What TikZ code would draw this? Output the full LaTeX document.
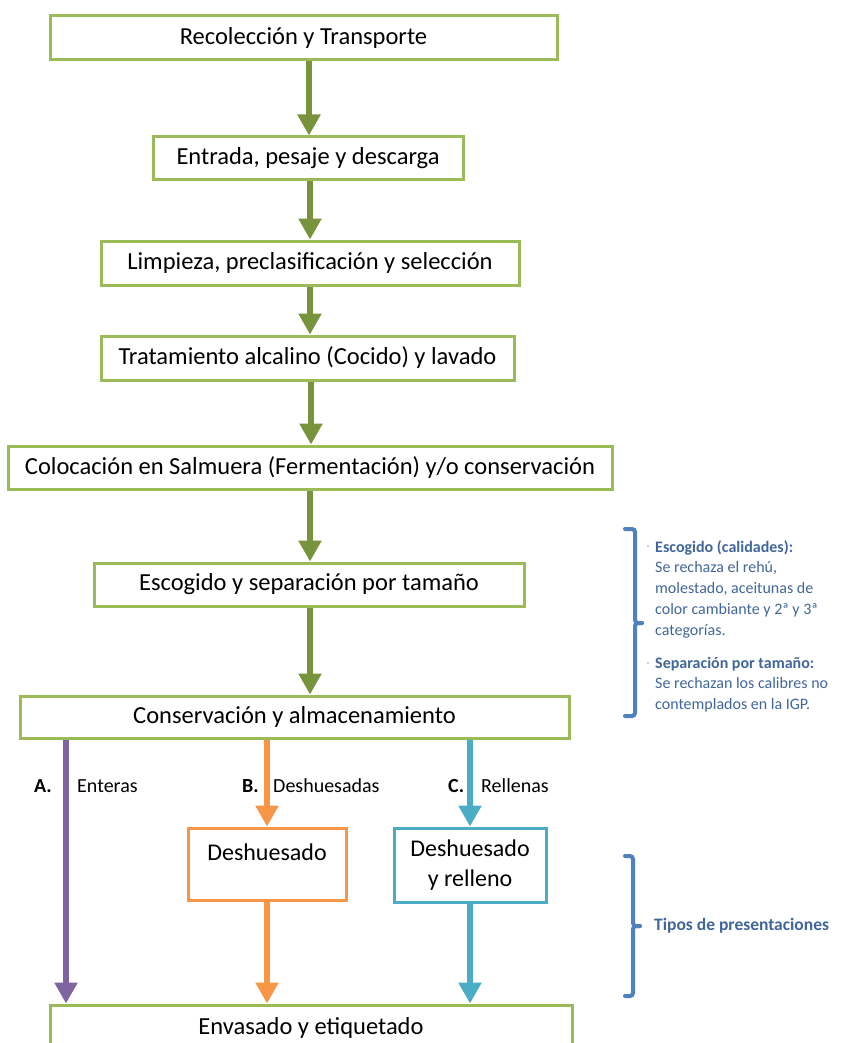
\documentclass[tikz,border=0pt]{standalone}
\usepackage{fontspec}
\setmainfont{Carlito}
\usetikzlibrary{arrows.meta}
\definecolor{boxgreen}{HTML}{9BBB59}
\definecolor{arrgreen}{HTML}{77933C}
\definecolor{purp}{HTML}{8064A2}
\definecolor{orng}{HTML}{F79646}
\definecolor{aqua}{HTML}{4BACC6}
\definecolor{brc}{HTML}{4F81BD}
\definecolor{notec}{HTML}{41679A}
\tikzset{
  gbox/.style={draw=boxgreen, line width=3pt, fill=white, inner sep=0pt, font=\fontsize{24.5}{28}\selectfont},
  obox/.style={draw=orng, line width=3pt, fill=white, inner sep=0pt},
  bbox/.style={draw=aqua, line width=3pt, fill=white, inner sep=0pt},
  flow/.style={line width=6pt, -{Triangle[width=22pt,length=21pt]}},
  garrow/.style={flow, draw=arrgreen},
  brace/.style={draw=brc, line width=4pt, rounded corners=3pt, line cap=round},
  note/.style={text=notec, font=\fontsize{16}{21}\selectfont, anchor=west, inner sep=0pt},
  lbl/.style={font=\fontsize{20}{22}\selectfont, anchor=west, inner sep=0pt}
}
\begin{document}
\begin{tikzpicture}[x=1pt,y=-1pt]
\clip (0,0) rectangle (848,1043);
\fill[white] (0,0) rectangle (848,1043);
% boxes
\node[gbox, minimum width=507pt, minimum height=44pt] (n1) at (303.5,38) {Recolección y Transporte};
\node[gbox, minimum width=310pt, minimum height=43pt] (n2) at (308,158.5) {Entrada, pesaje y descarga};
\node[gbox, minimum width=418pt, minimum height=44pt] (n3) at (310,263) {Limpieza, preclasificación y selección};
\node[gbox, minimum width=413pt, minimum height=44pt] (n4) at (307.5,358) {Tratamiento alcalino (Cocido) y lavado};
\node[gbox, minimum width=604pt, minimum height=43pt] (n5) at (310,467.5) {Colocación en Salmuera (Fermentación) y/o conservación};
\node[gbox, minimum width=430pt, minimum height=43pt] (n6) at (309,584.5) {Escogido y separación por tamaño};
\node[gbox, minimum width=549pt, minimum height=42pt] (n7) at (294.5,717) {Conservación y almacenamiento};
\node[obox, minimum width=158pt, minimum height=72pt] (d1) at (267,864) {};
\node[font=\fontsize{24}{28}\selectfont, inner sep=0pt] (d1t) at (267,852) {Deshuesado};
\node[bbox, minimum width=152pt, minimum height=74pt, align=center, font=\fontsize{24}{30}\selectfont] (d2) at (470,865) {Deshuesado\\y relleno};
\node[gbox, minimum width=522pt, minimum height=46pt] (n8) at (311,1028) {Envasado y etiquetado};
% green column
\coordinate (gc) at (309,0);
\draw[garrow] (n1.south -| gc) -- (n2.north -| gc);
\draw[garrow] ([xshift=1pt]n2.south -| gc) -- ([xshift=1pt]n3.north -| gc);
\draw[garrow] ([xshift=1pt]n3.south -| gc) -- ([xshift=1pt]n4.north -| gc);
\draw[garrow] ([xshift=2pt]n4.south -| gc) -- ([xshift=2pt]n5.north -| gc);
\draw[garrow] ([xshift=1pt]n5.south -| gc) -- ([xshift=1pt]n6.north -| gc);
\draw[garrow] ([xshift=1pt]n6.south -| gc) -- ([xshift=1pt]n7.north -| gc);
% branches
\coordinate (pa) at (66,0);
\draw[flow, draw=purp] (n7.south -| pa) -- (n8.north -| pa);
\draw[flow, draw=orng] (n7.south -| d1) -- (d1.north);
\draw[flow, draw=orng] (d1.south) -- (n8.north -| d1);
\draw[flow, draw=aqua] (n7.south -| d2) -- (d2.north);
\draw[flow, draw=aqua] (d2.south) -- (n8.north -| d2);
% branch labels
\node[lbl, font=\fontsize{20}{22}\bfseries] (la) at (34,786) {A.};
\node[lbl] (ta) at (77,786) {Enteras};
\node[lbl, font=\fontsize{20}{22}\bfseries] (lb) at (242,786) {B.};
\node[lbl] (tb) at (273,786) {Deshuesadas};
\node[lbl, font=\fontsize{20}{22}\bfseries] (lc) at (448,786) {C.};
\node[lbl] (tc) at (481,786) {Rellenas};
% braces
\draw[brace] (625,529) -- (635,529) -- (635,623) -- (642,623);
\draw[brace] (642,623) -- (635,623) -- (635,716) -- (625,716);
\draw[brace] (625,856) -- (633,856) -- (633,926) -- (640,926);
\draw[brace] (640,926) -- (633,926) -- (633,996) -- (625,996);
% bullets
\fill[notec!60] (648,546) circle (0.9pt);
\fill[notec!60] (648,663) circle (0.9pt);
% notes
\node[note, font=\fontsize{16}{21}\selectfont\bfseries] (h1) at (655,548) {Escogido (calidades):};
\node[note, anchor=north west] (t1) at (655,558) {\begin{tabular}{@{}l@{}}Se rechaza el rehú,\\molestado, aceitunas de\\color cambiante y 2ª y 3ª\\categorías.\end{tabular}};
\node[note, font=\fontsize{16}{21}\selectfont\bfseries] (h2) at (655,664) {Separación por tamaño:};
\node[note, anchor=north west] (t2) at (655,674) {\begin{tabular}{@{}l@{}}Se rechazan los calibres no\\contemplados en la IGP.\end{tabular}};
\node[note, font=\fontsize{17.5}{21}\selectfont\bfseries] (h3) at (654,926) {Tipos de presentaciones};
\end{tikzpicture}
\end{document}
